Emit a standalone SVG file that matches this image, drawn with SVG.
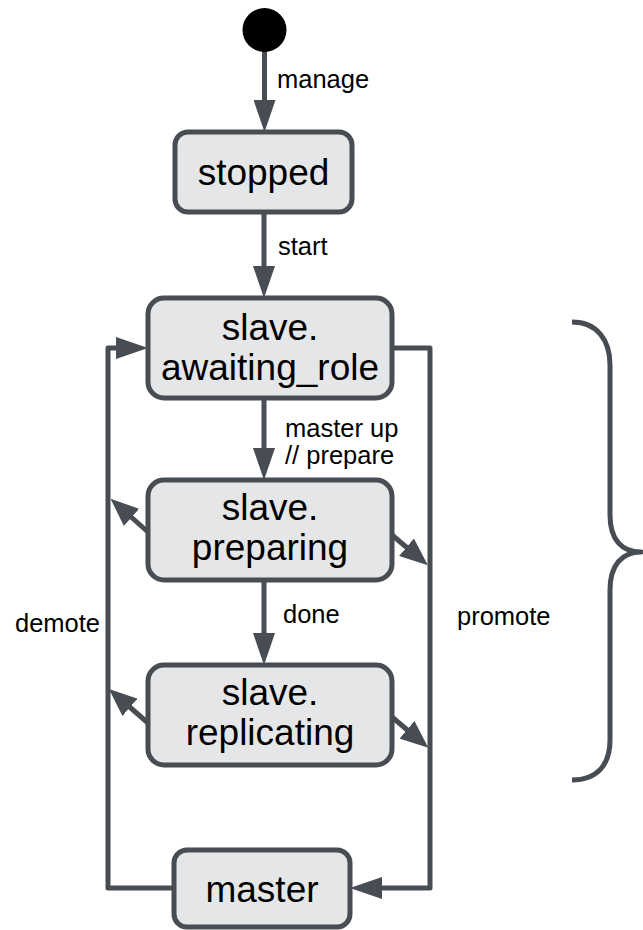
<svg xmlns="http://www.w3.org/2000/svg" width="643" height="930" viewBox="0 0 643 930">
<style>
.box{fill:#e5e6e7;stroke:#474d52;stroke-width:5}
.bt{font-family:"Liberation Sans",Arial,sans-serif;font-size:37px;fill:#000;text-anchor:middle}
.lb{font-family:"Liberation Sans",Arial,sans-serif;font-size:25.5px;fill:#000}
.cn{fill:none;stroke:#474d52;stroke-width:5;stroke-linejoin:round}
</style>
<defs>
<marker id="ah" viewBox="0 0 32 22" refX="2" refY="11" markerWidth="32" markerHeight="22" orient="auto" markerUnits="userSpaceOnUse">
<path d="M0,0 L32,11 L0,22 z" fill="#474d52"/>
</marker>
<marker id="ahs" viewBox="0 0 28 23" refX="2" refY="11.5" markerWidth="28" markerHeight="23" orient="auto" markerUnits="userSpaceOnUse">
<path d="M0,0 L28,11.5 L0,23 z" fill="#474d52"/>
</marker>
</defs>
<g id="connectors">
<path class="cn" d="M264.5,50 L264.5,102" marker-end="url(#ah)"/>
<path class="cn" d="M264,212 L264,268" marker-end="url(#ah)"/>
<path class="cn" d="M264,398 L264,450" marker-end="url(#ah)"/>
<path class="cn" d="M264,580 L264,635" marker-end="url(#ah)"/>
<path class="cn" d="M174,888 L108,888 L108,348 L118,348" marker-end="url(#ah)"/>
<path class="cn" d="M392,348 L430,348 L430,888 L380,888" marker-end="url(#ah)"/>
<path class="cn" d="M148,532 L130,516" marker-end="url(#ahs)"/>
<path class="cn" d="M392,535 L408,548.5" marker-end="url(#ahs)"/>
<path class="cn" d="M148,723 L128.5,706" marker-end="url(#ahs)"/>
<path class="cn" d="M392,717 L408.5,731" marker-end="url(#ahs)"/>
<text class="lb" x="277" y="88">manage</text>
<text class="lb" x="278" y="255">start</text>
<text class="lb" x="285" y="437">master up</text>
<text class="lb" x="285" y="464">// prepare</text>
<text class="lb" x="283" y="623">done</text>
<text class="lb" x="15" y="632">demote</text>
<text class="lb" x="457" y="625">promote</text>
</g>
<g id="initial">
<circle cx="264.5" cy="30" r="22" fill="#000"/>
</g>
<g id="stopped">
<rect class="box" x="175" y="132" width="177" height="80" rx="13"/>
<text class="bt" x="263.5" y="185">stopped</text>
</g>
<g id="awaiting_role">
<rect class="box" x="148" y="298" width="244" height="100" rx="16"/>
<text class="bt" x="270" y="340">slave.</text>
<text class="bt" x="270" y="380">awaiting_role</text>
</g>
<g id="preparing">
<rect class="box" x="148" y="480" width="244" height="100" rx="16"/>
<text class="bt" x="270" y="520">slave.</text>
<text class="bt" x="270" y="560">preparing</text>
</g>
<g id="replicating">
<rect class="box" x="148" y="665" width="244" height="100" rx="16"/>
<text class="bt" x="270" y="705">slave.</text>
<text class="bt" x="270" y="745">replicating</text>
</g>
<g id="master">
<rect class="box" x="174" y="850" width="176" height="77" rx="13"/>
<text class="bt" x="262" y="902">master</text>
</g>
<g id="brace">
<path class="cn" d="M572,322 C597,322 610,340 610,365 L610,515 C610,540 622,552 641,552 C622,552 610,565 610,590 L610,740 C610,765 597,780 572,780"/>
</g>
</svg>
